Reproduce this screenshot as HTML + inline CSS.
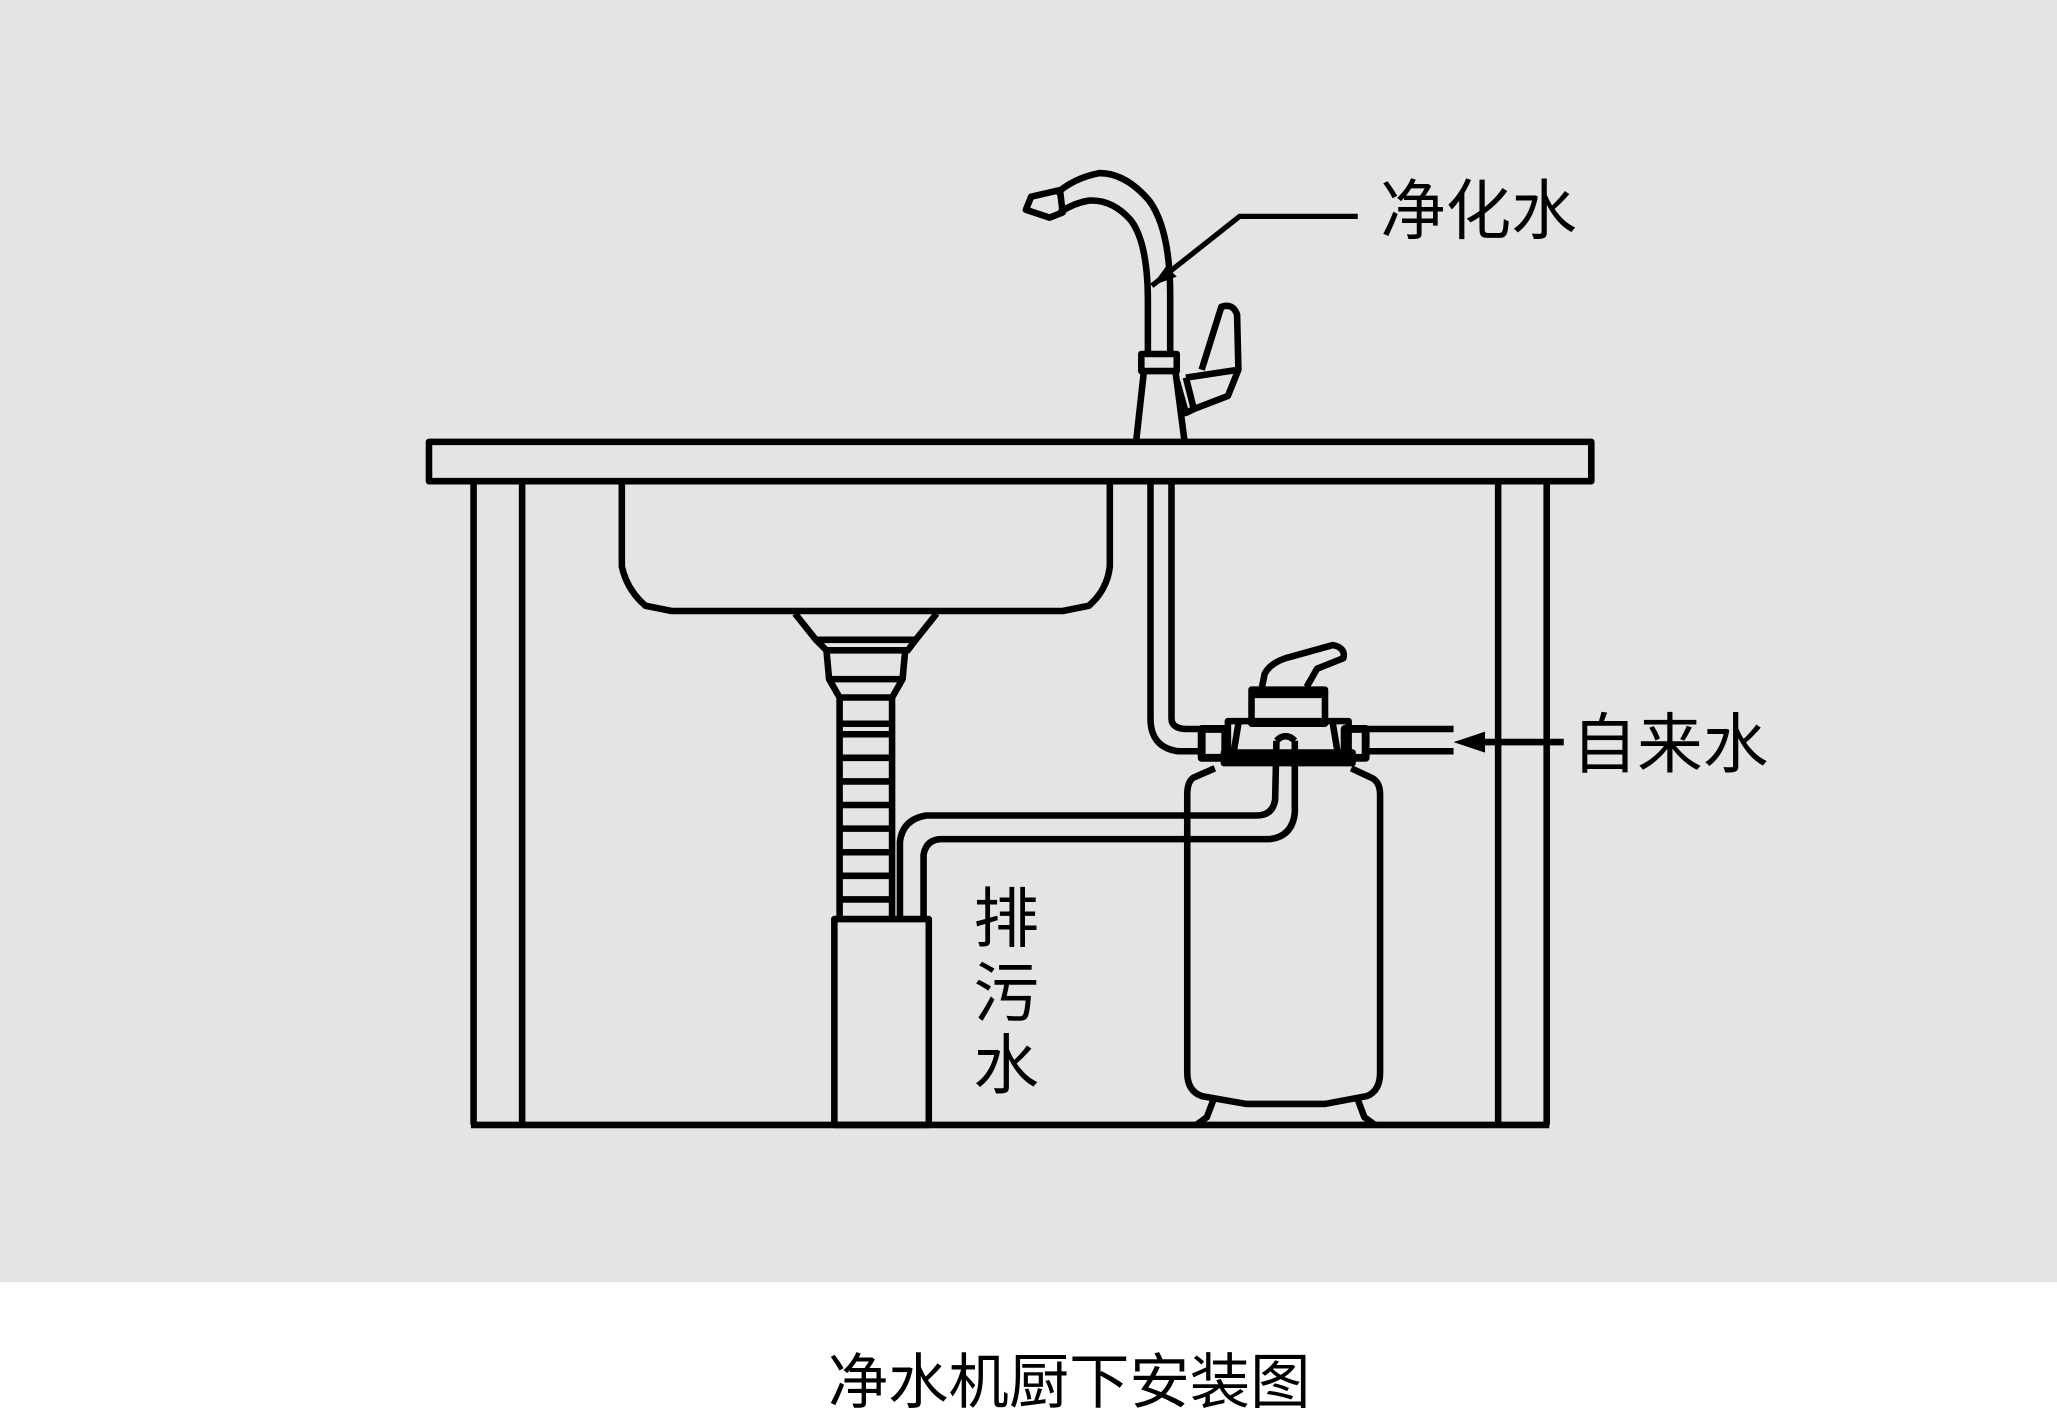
<!DOCTYPE html>
<html><head><meta charset="utf-8"><style>
html,body{margin:0;padding:0;background:#fff}
svg{display:block}
text{font-family:"Liberation Sans","Noto Sans CJK SC",sans-serif;fill:#000}
</style></head><body>
<svg width="2057" height="1416" viewBox="0 0 1568 1080" preserveAspectRatio="none" xmlns="http://www.w3.org/2000/svg">
<rect x="0" y="0" width="1568" height="978" fill="#e4e4e4"/>
<g fill="none" stroke="#000" stroke-width="5" stroke-linejoin="round">
<rect x="327" y="337" width="886" height="30"/>
<line x1="361" y1="367" x2="361" y2="858"/>
<line x1="398" y1="367" x2="398" y2="858"/>
<line x1="1142" y1="367" x2="1142" y2="858"/>
<line x1="1179" y1="367" x2="1179" y2="858"/>
<line x1="359" y1="858" x2="1181" y2="858"/>
<path d="M474,367 L474,432 Q478,450 492,462 L512,466 L810,466 L830,462 Q844,450 846,432 L846,367"/>
<path d="M606,468 L622,488 L698,488 L714,468"/>
<path d="M622,488 L630,496 L692,496 L698,488"/>
<path d="M630,496 L632,518 L688,518 L690,496"/>
<path d="M632,518 L640,532 L640,700 M688,518 L680,532 L680,700"/>
<line x1="640" y1="532" x2="680" y2="532"/>
<line x1="640" y1="552" x2="680" y2="552"/><line x1="640" y1="560" x2="680" y2="560"/>
<line x1="640" y1="578" x2="680" y2="578"/><line x1="640" y1="596" x2="680" y2="596"/>
<line x1="640" y1="614" x2="680" y2="614"/><line x1="640" y1="632" x2="680" y2="632"/>
<line x1="640" y1="650" x2="680" y2="650"/><line x1="640" y1="668" x2="680" y2="668"/>
<line x1="640" y1="686" x2="680" y2="686"/>
<rect x="636" y="701" width="72" height="157"/>
<path d="M686,701 L686,642 Q688,625 706,622 L958,622 Q970,622 972,610 L973,565"/>
<path d="M704,701 L704,652 Q706,640 718,640 L968,640 Q985,638 987,620 L987,565"/>
<path d="M973,565 Q980,558 987,565"/>
<path d="M926,586 L910,593 Q905,596 905,606 L905,818 Q905,832 916,836 L950,842 L1010,842 L1042,836 Q1052,832 1052,818 L1052,606 Q1052,596 1045,593 L1030,586"/>
<path d="M926,836 L920,852 L912,858 M1034,836 L1040,852 L1048,858"/>
<rect x="936" y="550" width="92" height="30"/>
<rect x="933" y="574" width="98" height="8" fill="#000"/>
<rect x="954" y="526" width="56" height="26"/>
<line x1="954" y1="530" x2="1010" y2="530"/>
<path d="M962,524 L964,514 Q968,506 980,502 L1016,492 Q1026,494 1024,502 L1004,510 L996,524"/>
<rect x="916" y="556" width="18" height="22" stroke-width="6"/>
<rect x="1025" y="556" width="16" height="22" stroke-width="6"/>
<path d="M944,552 L940,576 M1016,552 L1020,576"/>
<path d="M877,367 L877,548 Q877,570 898,573 L916,573"/>
<path d="M893,367 L893,548 Q893,556 905,556 L916,556"/>
<line x1="1041" y1="556" x2="1108" y2="556"/>
<line x1="1041" y1="573" x2="1108" y2="573"/>
<line x1="1130" y1="566" x2="1192" y2="566"/>
<path d="M866,337 L872,283 M903,337 L896,283"/>
<rect x="870" y="270" width="27" height="13"/>
<path d="M875,270 L875,230 Q875,185 862,168 Q848,152 830,153 Q818,155 808,162"/>
<path d="M892,270 L892,225 Q892,175 876,153 Q858,132 838,132 Q818,136 805,148"/>
<path d="M808,145 L786,150 L782,160 L800,166 L810,162 Z"/>
<path d="M897,290 L904,315 L910,312 L936,302 L944,282 L943,240 Q940,231 931,234 L916,282"/>
<path d="M904,288 L944,282 M904,288 L910,312"/>
<path d="M1035,165 L945,165 L878,218" stroke-width="4"/>
</g>
<polygon points="878,218 889,203 897,211" fill="#000"/>
<polygon points="1108,566 1132,558 1132,574" fill="#000"/>
<text x="1052" y="178" font-size="50">净化水</text>
<text x="1198" y="585" font-size="50">自来水</text>
<text x="742" y="718" font-size="50">排</text>
<text x="742" y="775" font-size="50">污</text>
<text x="742" y="830" font-size="50">水</text>
<text x="815" y="1070" font-size="46" text-anchor="middle">净水机厨下安装图</text>
</svg>
</body></html>
